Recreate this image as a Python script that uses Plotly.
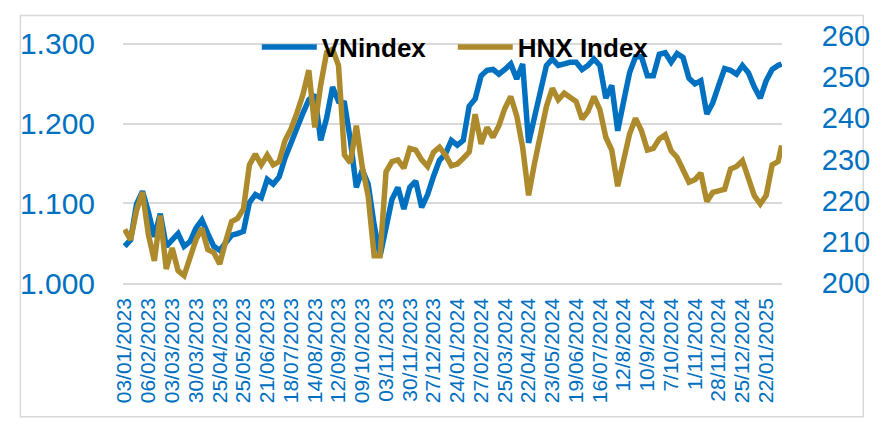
import plotly.graph_objects as go

# Trading-day index of each sampled value (every 5th session, plus the last session)
day_index = list(range(0, 551, 5)) + [553]

vn_index = [1046, 1054, 1099, 1115, 1089, 1058, 1087, 1046, 1054, 1062,
            1046, 1052, 1069, 1079, 1062, 1046, 1041, 1050, 1060, 1062,
            1065, 1101, 1111, 1107, 1130, 1124, 1133, 1157, 1177, 1197,
            1213, 1230, 1236, 1179, 1207, 1246, 1228, 1226, 1179, 1120,
            1142, 1124, 1073, 1034, 1069, 1105, 1120, 1093, 1120, 1128,
            1095, 1111, 1134, 1154, 1162, 1179, 1173, 1179, 1222, 1231,
            1260, 1267, 1268, 1262, 1268, 1275, 1256, 1275, 1176, 1209,
            1242, 1273, 1281, 1273, 1275, 1277, 1277, 1268, 1273, 1281,
            1273, 1232, 1248, 1191, 1228, 1264, 1284, 1284, 1260, 1260,
            1287, 1289, 1277, 1288, 1283, 1257, 1250, 1254, 1212, 1226,
            1248, 1269, 1267, 1262, 1273, 1264, 1246, 1232, 1254, 1268,
            1273, 1275]

hnx_index = [213.0, 210.5, 217.6, 222.1, 211.7, 205.4, 216.4, 203.4, 208.5, 203.0,
             201.8, 206.6, 210.5, 213.3, 208.1, 207.4, 204.6, 210.1, 214.9, 215.7,
             218.0, 228.7, 231.3, 228.7, 231.1, 228.7, 229.5, 234.6, 237.4, 241.3,
             245.7, 251.7, 237.8, 248.1, 256.0, 256.8, 252.8, 231.1, 229.2, 238.2,
             228.2, 221.1, 206.6, 206.6, 227.0, 229.5, 229.9, 227.9, 232.7, 232.3,
             229.9, 228.3, 231.8, 233.0, 231.1, 228.5, 228.9, 230.3, 231.8, 241.0,
             233.8, 237.8, 235.4, 238.2, 242.4, 245.3, 240.6, 233.0, 221.3, 229.1,
             236.2, 242.9, 247.3, 244.5, 246.1, 244.9, 244.1, 239.8, 241.7, 245.3,
             242.1, 235.4, 232.3, 223.5, 230.3, 236.2, 240.0, 237.0, 232.3, 232.7,
             235.0, 236.0, 232.1, 230.5, 227.5, 224.5, 225.1, 226.7, 219.8, 222.0,
             222.4, 222.8, 227.7, 228.3, 229.7, 225.9, 221.2, 219.2, 221.3, 228.7,
             229.5, 233.4]

tick_labels = ["03/01/2023", "06/02/2023", "03/03/2023", "30/03/2023", "25/04/2023",
               "25/05/2023", "21/06/2023", "18/07/2023", "14/08/2023", "12/09/2023",
               "09/10/2023", "03/11/2023", "30/11/2023", "27/12/2023", "24/01/2024",
               "27/02/2024", "25/03/2024", "22/04/2024", "23/05/2024", "19/06/2024",
               "16/07/2024", "12/8/2024", "10/9/2024", "7/10/2024", "1/11/2024",
               "28/11/2024", "25/12/2024", "22/01/2025"]
tick_positions = [20 * i for i in range(len(tick_labels))]

left_ticks = [1000, 1100, 1200, 1300]
left_tick_text = ["1.000", "1.100", "1.200", "1.300"]
right_ticks = [200, 210, 220, 230, 240, 250, 260]

BLUE = "#0070C0"
GOLD = "#AD8A2B"
GRID = "#D9D9D9"
FONT = "Liberation Sans, Arial, sans-serif"

fig = go.Figure()
fig.add_trace(go.Scatter(x=day_index, y=vn_index, name="VNindex", mode="lines",
                         line=dict(color=BLUE, width=5.5), yaxis="y"))
fig.add_trace(go.Scatter(x=day_index, y=hnx_index, name="HNX Index", mode="lines",
                         line=dict(color=GOLD, width=5.5), yaxis="y2"))

fig.update_layout(
    width=874, height=422,
    margin=dict(l=110, r=83, t=22, b=147),
    paper_bgcolor="white", plot_bgcolor="white",
    font=dict(family=FONT, color=BLUE),
    showlegend=True,
    legend=dict(orientation="h", x=0.203, xanchor="left", y=0.955, yanchor="middle",
                bgcolor="rgba(0,0,0,0)", itemwidth=55,
                entrywidth=126, entrywidthmode="pixels",
                font=dict(family=FONT, size=26, color="black", weight="bold")),
    xaxis=dict(range=[-1.4, 553.3], tickmode="array", tickvals=tick_positions,
               ticktext=tick_labels, tickangle=-90,
               tickfont=dict(size=21, color=BLUE), showgrid=False, zeroline=False,
               ticks="outside", ticklen=5, tickcolor="rgba(0,0,0,0)",
               showline=True, linecolor=GRID, linewidth=1.5),
    yaxis=dict(range=[1000, 1310], tickmode="array", tickvals=left_ticks,
               ticktext=left_tick_text, tickfont=dict(size=30, color=BLUE),
               showgrid=True, gridcolor=GRID, gridwidth=1.5, zeroline=False,
               ticks="outside", ticklen=21, tickcolor="rgba(0,0,0,0)"),
    yaxis2=dict(range=[200, 260], tickmode="array", tickvals=right_ticks,
                overlaying="y", side="right", tickfont=dict(size=29, color=BLUE),
                showgrid=False, zeroline=False,
                ticks="outside", ticklen=33, tickcolor="rgba(0,0,0,0)"),
    shapes=[dict(type="rect", xref="paper", yref="paper",
                 x0=-0.1557, x1=1.1233, y0=-0.5415, y1=1.0830,
                 line=dict(color=GRID, width=1.5), fillcolor="rgba(0,0,0,0)",
                 layer="below")],
)

fig.write_html("out.html")
